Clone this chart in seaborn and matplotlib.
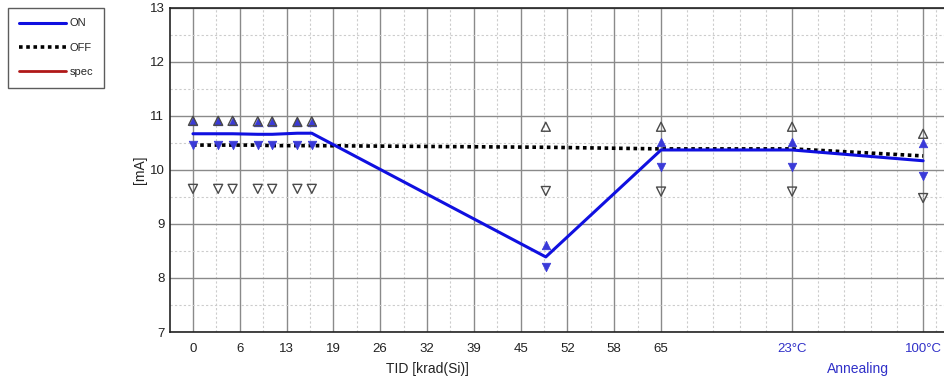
import numpy as np
import pandas as pd
import matplotlib
matplotlib.use('Agg')
import matplotlib.pyplot as plt
from matplotlib.lines import Line2D
from matplotlib.ticker import FixedLocator
import seaborn as sns

# dose steps (krad) and the two annealing steps placed after 65 krad
dose = [0, 3.5, 5.5, 9, 11, 14.5, 16.5, 49, 65, 83.2, 101.4]

on_mean = [10.67, 10.67, 10.67, 10.66, 10.66, 10.68, 10.68, 8.39, 10.37, 10.37, 10.17]
on_max = [10.90, 10.90, 10.90, 10.89, 10.89, 10.88, 10.89, 8.61, 10.52, 10.52, 10.50]
on_min = [10.47, 10.47, 10.47, 10.47, 10.46, 10.46, 10.46, 8.20, 10.06, 10.06, 9.89]

off_mean = [10.46, 10.46, 10.46, 10.46, 10.45, 10.45, 10.45, 10.42, 10.39, 10.39, 10.26]
off_max = [10.91, 10.91, 10.91, 10.90, 10.90, 10.89, 10.90, 10.80, 10.80, 10.80, 10.67]
off_min = [9.65, 9.65, 9.65, 9.65, 9.65, 9.65, 9.65, 9.61, 9.60, 9.60, 9.48]

tick_pos = [0, 6.5, 13, 19.5, 26, 32.5, 39, 45.5, 52, 58.5, 65, 83.2, 101.4]
tick_lbl = ['0', '6', '13', '19', '26', '32', '39', '45', '52', '58', '65', '23°C', '100°C']

df = pd.DataFrame({'dose': dose, 'on': on_mean, 'on_max': on_max, 'on_min': on_min,
                   'off': off_mean, 'off_max': off_max, 'off_min': off_min})

sns.set_style('white')
plt.rcParams['font.family'] = ['Liberation Sans', 'DejaVu Sans']

fig = plt.figure(figsize=(9.44, 3.76), dpi=100)
ax = fig.add_axes([0.18, 0.117, 0.82, 0.862])

blue = '#1010e0'
mblue = '#3a3ad8'
grey = '#4a4a4a'

sns.lineplot(data=df, x='dose', y='off', ax=ax, color='black', linestyle=(0, (1, 1)),
             linewidth=2.6, zorder=3)
sns.lineplot(data=df, x='dose', y='on', ax=ax, color=blue, linewidth=2.2, zorder=4)

sns.scatterplot(data=df, x='dose', y='on_max', ax=ax, marker='^', s=38, color=mblue,
                edgecolor=mblue, linewidth=0.5, zorder=5)
sns.scatterplot(data=df, x='dose', y='on_min', ax=ax, marker='v', s=38, color=mblue,
                edgecolor=mblue, linewidth=0.5, zorder=5)
sns.scatterplot(data=df, x='dose', y='off_max', ax=ax, marker='^', s=42, facecolor='none',
                edgecolor=grey, linewidth=1.0, zorder=6)
sns.scatterplot(data=df, x='dose', y='off_min', ax=ax, marker='v', s=42, facecolor='none',
                edgecolor=grey, linewidth=1.0, zorder=6)

ax.set_xlim(-3.2, 104.3)
ax.set_ylim(7, 13)

ax.xaxis.set_major_locator(FixedLocator(tick_pos))
ax.set_xticklabels(tick_lbl)
minor_x = [p + 3.25 for p in tick_pos[:10]] + \
          [65 + 3.64 * k for k in range(1, 5)] + [83.2 + 3.64 * k for k in range(1, 5)] + [103.2]
ax.xaxis.set_minor_locator(FixedLocator(minor_x))
ax.set_yticks(range(7, 14))
ax.yaxis.set_minor_locator(FixedLocator([7.5 + k for k in range(6)]))

ax.grid(which='major', color='#8a8a8a', linewidth=1.0, linestyle='-')
ax.grid(which='minor', color='#cccccc', linewidth=0.8, linestyle=(0, (2, 2)))
ax.set_axisbelow(True)
ax.tick_params(which='major', direction='in', length=4, width=1.2, labelsize=9.5,
               colors='#333333', labelcolor='#222222')
ax.tick_params(axis='x', pad=8)
ax.tick_params(axis='y', pad=4)
for lbl in ax.get_xticklabels()[-2:]:
    lbl.set_color('#3030c8')
ax.tick_params(which='minor', length=0)

for s in ['top', 'left', 'bottom']:
    ax.spines[s].set_color('#222222')
    ax.spines[s].set_linewidth(1.2)
ax.spines['right'].set_visible(False)

ax.set_xlabel('')
ax.set_ylabel('[mA]', fontsize=10, color='#222222', labelpad=2)
ax.text(32.5, -0.093, 'TID [krad(Si)]', transform=ax.get_xaxis_transform(),
        ha='center', va='top', fontsize=10, color='#222222')
ax.text(92.3, -0.093, 'Annealing', transform=ax.get_xaxis_transform(),
        ha='center', va='top', fontsize=10, color='#3030c8')

handles = [Line2D([], [], color=blue, linewidth=2.2),
           Line2D([], [], color='black', linestyle=(0, (1, 1)), linewidth=2.6),
           Line2D([], [], color='#b01818', linewidth=2.0)]
leg = fig.legend(handles, ['ON', 'OFF', 'spec'], loc='upper left',
                 bbox_to_anchor=(0.0085, 0.979), fontsize=8, handlelength=4.3,
                 handletextpad=0.3, labelspacing=1.3, fancybox=False, frameon=True,
                 borderpad=0.95, borderaxespad=0)
leg.get_frame().set_edgecolor('#333333')
leg.get_frame().set_linewidth(1.0)

fig.savefig('out.png', dpi=100)
